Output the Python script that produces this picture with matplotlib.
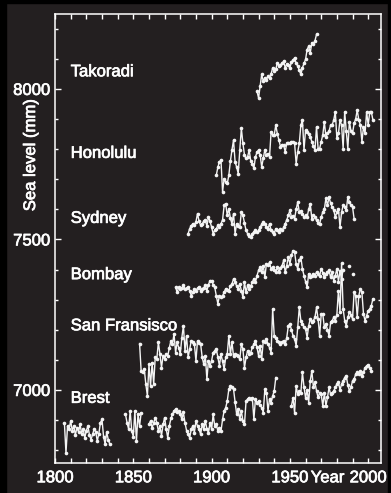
import numpy as np
import matplotlib
matplotlib.use("Agg")
import matplotlib.pyplot as plt
import matplotlib.patheffects as pe
from matplotlib.patches import Rectangle
from matplotlib.ticker import MultipleLocator

# annual mean sea level (mm); np.nan = missing years
takoradi_start = 1929
takoradi = [7992, 7970, 8010, 8048, 8026, 8037, 8030, 8042, 8035, 8050, 8070, 8060, 8065,
            8087, 8075, 8080, 8085, 8092, 8070, 8082, 8078, 8070, 8090, 8095, 8103, 8085,
            8076, 8062, 8048, 8070, 8085, 8098, 8131, 8142, 8120, 8153, 8150, 8160, 8181]

honolulu_start = 1903
honolulu = [7713, 7740, 7758, 7763, 7658, 7702, 7690, 7686, 7713, 7760, 7797, 7830, 7758,
            7740, 7719, 7797, 7869, 7819, 7780, 7769, 7775, 7797, 7760, 7752, 7736, 7774,
            7790, 7797, 7780, 7741, 7770, 7797, 7780, 7785, 7774, 7858, 7847, 7847, 7880,
            7850, 7830, 7808, 7815, 7813, 7791, 7819, 7822, 7819, 7825, 7825, 7819, 7752,
            7791, 7819, 7880, 7897, 7797, 7863, 7858, 7850, 7841, 7825, 7810, 7797, 7874,
            7802, 7802, 7825, 7847, 7891, 7841, 7852, 7860, 7880, 7880, 7897, 7924, 7836,
            7852, 7897, 7880, 7802, 7924, 7860, 7802, 7891, 7860, 7852, 7886, 7900, 7930,
            7897, 7880, 7825, 7874, 7852, 7924, 7880, 7924, 7924, 7897]

sydney_start = 1885
sydney = [7519, 7536, 7545, 7552, 7548, 7558, 7586, 7560, 7547, 7552, 7560, 7563, 7545,
          7574, 7560, 7541, 7519, 7530, 7535, 7547, 7540, 7552, 7565, 7613, 7619, 7580,
          7602, 7570, 7552, 7586, 7519, 7552, 7545, 7541, 7591, 7580, 7555, 7530, 7519,
          7512, 7508, 7519, 7525, 7530, 7524, 7530, 7541, 7550, 7558, 7552, 7540, 7536,
          7552, 7530, 7524, 7519, 7536, 7530, 7524, 7536, 7530, 7540, 7552, 7565, 7580,
          7597, 7574, 7578, 7569, 7600, 7624, 7591, 7595, 7586, 7574, 7580, 7575, 7600,
          7619, 7569, 7580, 7575, 7563, 7555, 7552, 7574, 7591, 7600, 7636, 7613, 7641,
          7620, 7608, 7597, 7574, 7590, 7602, 7541, 7590, 7613, 7608, 7597, 7641, 7625,
          7613, 7608, 7569]

bombay_start = 1877
bombay = [7341, 7324, 7341, 7336, 7340, 7347, 7336, 7338, 7341, 7330, 7313, 7325, 7336,
          7330, 7338, 7341, 7330, 7336, 7340, 7347, 7330, 7350, 7363, 7363, 7350, 7341,
          7313, 7286, 7313, 7310, 7313, 7324, 7336, 7333, 7330, 7345, 7352, 7369, 7358,
          7345, 7336, 7352, 7330, 7308, 7358, 7324, 7347, 7336, 7345, 7358, 7369, 7358,
          7380, 7397, 7408, 7391, 7413, 7374, 7419, 7415, 7424, 7402, 7408, 7400, 7391,
          7408, 7391, 7405, 7413, 7430, 7391, 7413, 7441, 7419, 7447, 7463, 7458, 7419,
          7402, 7430, 7441, 7402, 7380, 7360, 7341, 7386, 7374, 7380, 7386, 7380, 7391,
          7385, 7380, 7402, 7390, 7374, 7386, 7392, 7397, 7374, 7391, 7363, 7380, 7402,
          7360, 7395, 7370, 7400, np.nan, np.nan, np.nan, 7413, np.nan, 7385]

sanfran_start = 1854
sanfran = [7154, 7063, 7058, 7069, 7019, 6980, 7085, 7013, 7091, 7019, 7108, 7102, 7158,
           7119, 7074, 7113, 7102, 7119, 7113, 7140, 7163, 7152, 7186, 7124, 7158, 7140,
           7119, 7174, 7213, 7130, 7180, 7108, 7135, 7163, 7158, 7152, 7097, 7163, 7155,
           7152, 7108, 7085, 7113, 7035, 7097, 7080, 7097, 7124, 7130, 7136, 7108, 7080,
           7119, 7095, 7069, 7108, 7119, 7180, 7119, 7158, 7113, 7119, 7115, 7113, 7102,
           7152, 7136, 7074, 7108, 7130, 7119, 7124, 7141, 7152, 7163, 7141, 7113, 7147,
           7102, 7163, 7158, 7169, 7152, 7140, 7124, 7269, 7180, 7174, 7163, 7158, 7152,
           7160, 7163, 7152, 7174, 7213, 7219, 7200, 7180, 7169, 7147, 7208, 7274, 7230,
           7219, 7210, 7202, 7174, 7213, 7236, 7224, 7230, 7241, 7274, 7236, 7180, 7252,
           7252, 7208, 7219, 7200, 7180, 7224, 7230, 7241, 7230, 7250, 7330, 7258, 7420,
           7269, 7230, 7213, 7241, 7258, 7250, 7236, 7324, 7313, 7241, 7313, 7336, 7324,
           7252, 7230, 7247, 7263, 7269, 7280, 7302]

brest_a_start = 1806
brest_a = [6890, 6790, 6880, 6870, 6897, 6865, 6880, 6850, 6875, 6860, 6885, 6855, 6870,
           6840, 6865, 6880, 6850, 6835, 6852, 6870, 6860, 6830, 6855, 6891, 6902, 6845,
           6820, 6860, 6835, 6819]
brest_b_start = 1845
brest_b = [6919, 6891, 6870, 6930, 6863, 6845, 6930, 6830, 6919, 6880, 6924]
brest_c_start = 1860
brest_c = [6886, 6897, 6874, 6890, 6908, 6891, 6863, 6880, 6847, 6885, 6908, 6870, 6841,
           6880, 6905, 6919, 6930, 6936, 6925, 6930, 6920, 6902, 6925, 6891, 6865, 6852,
           6841, 6869, 6880, 6858, 6897, 6880, 6869, 6852, 6886, 6869, 6897, 6869, 6858,
           6891, 6869, 6919, 6880, 6886, 6863, 6875, 6863, 6902, 6930, 6941, 6963, 7002,
           7013, 7008, 7002, 6960, 6919, 6935, 6902, 6930, 6897, 6886, 6963, 6969, 6974,
           6969, 6974, 6902, 6969, 6958, 6963, 6950, 6941, 6924, 7002, 6991, 6930, 6969,
           6958, 6980, 6997, 7041]
brest_d_start = 1951
brest_d = [6947, 6974, 6924, 7013, 6985, 6997, 6990, 7058, 7010, 6974, 7000, 6958, 7030,
           7063, 7010, 7025, 6997, 6975, 6990, 6985, 6947, 6990, 6947, 6975, 7008, 6985,
           6990, 6997, 7008, 7019, 7025, 7000, 7019, 7030, 7041, 7047, 7015, 6997, 7008,
           7030, 7036, 7052, 7058, 7052, 7063, 7047, 7058, 7074, 7080, 7083, 7074, 7063]

# station names and the sea level (mm) the label is centred on
station_labels = ["Takoradi", "Honolulu", "Sydney", "Bombay", "San Fransisco", "Brest"]
label_mm = [8057, 7786, 7570, 7383, 7213, 6972]

BG = "#231f20"
FG = "#f4f4f4"

plt.rcParams["font.family"] = ["Liberation Sans", "DejaVu Sans"]
heavy = [pe.withStroke(linewidth=0.5, foreground="white")]


def draw_series(ax, start, values):
    vals = np.array(values, dtype=float)
    years = np.arange(start, start + len(vals))
    ax.plot(years, vals, color=FG, lw=1.0, marker="o", ms=2.6, mew=0, mfc=FG)


fig = plt.figure(figsize=(3.91, 4.93), dpi=100, facecolor=BG)
ax = fig.add_axes([0.1407, 0.0602, 0.835, 0.9114])
ax.set_facecolor(BG)

for start, values in [(takoradi_start, takoradi), (honolulu_start, honolulu),
                      (sydney_start, sydney), (bombay_start, bombay),
                      (sanfran_start, sanfran), (brest_a_start, brest_a),
                      (brest_b_start, brest_b), (brest_c_start, brest_c),
                      (brest_d_start, brest_d)]:
    draw_series(ax, start, values)

for name, y in zip(station_labels, label_mm):
    ax.text(1810, y, name, color="white", fontsize=12, ha="left", va="center",
            path_effects=heavy)

ax.set_xlim(1800, 2008.5)
ax.set_ylim(6756, 8249)

ax.xaxis.set_major_locator(MultipleLocator(50))
ax.xaxis.set_minor_locator(MultipleLocator(10))
ax.yaxis.set_major_locator(MultipleLocator(500))
ax.yaxis.set_minor_locator(MultipleLocator(100))

ax.tick_params(which="both", direction="in", colors="white", top=True, right=True,
               labelsize=12, width=1)
ax.tick_params(axis="x", which="both", length=3.5, pad=5)
ax.tick_params(axis="y", which="major", length=4, pad=3.5)
ax.tick_params(axis="y", which="minor", length=2.5)
for lab in ax.get_xticklabels() + ax.get_yticklabels():
    lab.set_path_effects(heavy)
for spine in ax.spines.values():
    spine.set_color("white")
    spine.set_linewidth(1.1)

ax.set_ylabel("Sea level (mm)", color="white", fontsize=12, path_effects=heavy)
ax.yaxis.set_label_coords(-0.052, 0.686)

ax.annotate("Year", xy=(0.835, 0), xycoords="axes fraction", xytext=(0, -5),
            textcoords="offset points", ha="center", va="top", color="white", fontsize=12,
            path_effects=heavy)

# black frame edges of the original slide
fig.patches.append(Rectangle((0, 0), 6 / 391, 1, transform=fig.transFigure,
                             color="black", zorder=-1))
fig.patches.append(Rectangle((0, 1 - 3 / 493), 1, 3 / 493, transform=fig.transFigure,
                             color="black", zorder=-1))
fig.patches.append(Rectangle((1 - 3 / 391, 0), 3 / 391, 1, transform=fig.transFigure,
                             color="black", zorder=-1))

fig.savefig("out.png", dpi=100, facecolor=BG)
